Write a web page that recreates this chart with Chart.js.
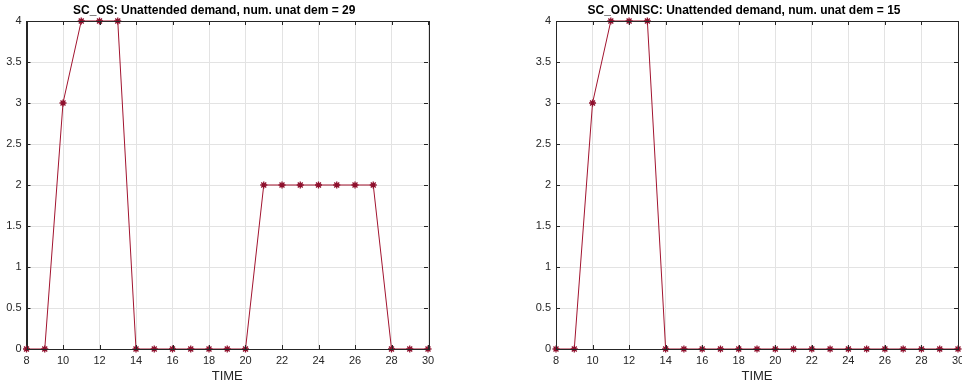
<!DOCTYPE html>
<html>
<head>
<meta charset="utf-8">
<script src="https://cdn.jsdelivr.net/npm/chart.js@4.4.1/dist/chart.umd.min.js"></script>
<style>
html,body{margin:0;padding:0;background:#fff;overflow:hidden;}
#wrap{position:relative;width:962px;height:385px;overflow:hidden;}
.pane{position:absolute;top:0;height:385px;}
</style>
</head>
<body>
<div id="wrap">
  <div class="pane" style="left:0;width:481px"><canvas id="chartOS" width="481" height="385"></canvas></div>
  <div class="pane" style="left:481px;width:495px"><canvas id="chartOmni" width="495" height="385"></canvas></div>
</div>
<script>
const timeSteps=[8,9,10,11,12,13,14,15,16,17,18,19,20,21,22,23,24,25,26,27,28,29,30];
const unattendedOS=[0,0,3,4,4,4,0,0,0,0,0,0,0,2,2,2,2,2,2,2,0,0,0];
const unattendedOmnisc=[0,0,3,4,4,4,0,0,0,0,0,0,0,0,0,0,0,0,0,0,0,0,0];
const titleOS='SC_OS: Unattended demand, num. unat dem = 29';
const titleOmnisc='SC_OMNISC: Unattended demand, num. unat dem = 15';

const axisColor='#262626';
const lineColor='#A2142F';

// matlab style box + inward ticks
const boxPlugin={
  id:'boxPlugin',
  afterDraw(chart){
    const ctx=chart.ctx, a=chart.chartArea;
    const xs=chart.scales.x, ys=chart.scales.y;
    ctx.save();
    ctx.strokeStyle=axisColor;
    ctx.lineWidth=1;
    ctx.beginPath();
    xs.ticks.forEach(t=>{
      const px=Math.round(xs.getPixelForValue(t.value))+0.5;
      ctx.moveTo(px,a.bottom);ctx.lineTo(px,a.bottom-4);
      ctx.moveTo(px,a.top);ctx.lineTo(px,a.top+4);
    });
    ys.ticks.forEach(t=>{
      const py=Math.round(ys.getPixelForValue(t.value))+0.5;
      ctx.moveTo(a.left,py);ctx.lineTo(a.left+4,py);
      ctx.moveTo(a.right,py);ctx.lineTo(a.right-4,py);
    });
    ctx.stroke();
    ctx.strokeRect(Math.round(a.left)+0.5,Math.round(a.top)+0.5,Math.round(a.right-a.left),Math.round(a.bottom-a.top));
    ctx.restore();
  }
};

function makeChart(id,title,values,padLeft,padRight){
  const pts=timeSteps.map((t,i)=>({x:t,y:values[i]}));
  return new Chart(document.getElementById(id),{
    type:'line',
    data:{datasets:[{
      data:pts,
      borderColor:lineColor,
      borderWidth:1,
      pointStyle:'star',
      pointRadius:3.5,
      pointBorderColor:'#8E0F2C',
      pointBackgroundColor:'#8E0F2C',
      pointBorderWidth:1.3,
      tension:0,
      clip:false
    }]},
    options:{
      responsive:false,
      animation:false,
      layout:{padding:{left:padLeft,right:padRight,top:0,bottom:0}},
      plugins:{
        legend:{display:false},
        tooltip:{enabled:false},
        title:{display:true,text:title,color:'#000',
          font:{family:'Liberation Sans, Arial, sans-serif',size:12,weight:'bold'},
          padding:{top:3,bottom:3.6}}
      },
      scales:{
        x:{type:'linear',min:8,max:30,
          afterFit(s){s.height=36;},
          ticks:{stepSize:2,color:axisColor,padding:5,maxRotation:0,
            font:{family:'Liberation Sans, Arial, sans-serif',size:11}},
          grid:{color:'#e3e3e3',drawTicks:false},
          border:{color:axisColor},
          title:{display:true,text:'TIME',color:axisColor,
            font:{family:'Liberation Sans, Arial, sans-serif',size:13},
            padding:{top:0,bottom:1}}
        },
        y:{min:0,max:4,
          afterFit(s){s.width=26;},
          ticks:{stepSize:0.5,color:axisColor,padding:5,
            callback:v=>String(v),
            font:{family:'Liberation Sans, Arial, sans-serif',size:11}},
          grid:{color:'#e3e3e3',drawTicks:false},
          border:{color:axisColor}
        }
      }
    },
    plugins:[boxPlugin]
  });
}

makeChart('chartOS',titleOS,unattendedOS,0.5,53);
makeChart('chartOmni',titleOmnisc,unattendedOmnisc,49,18);
</script>
</body>
</html>
